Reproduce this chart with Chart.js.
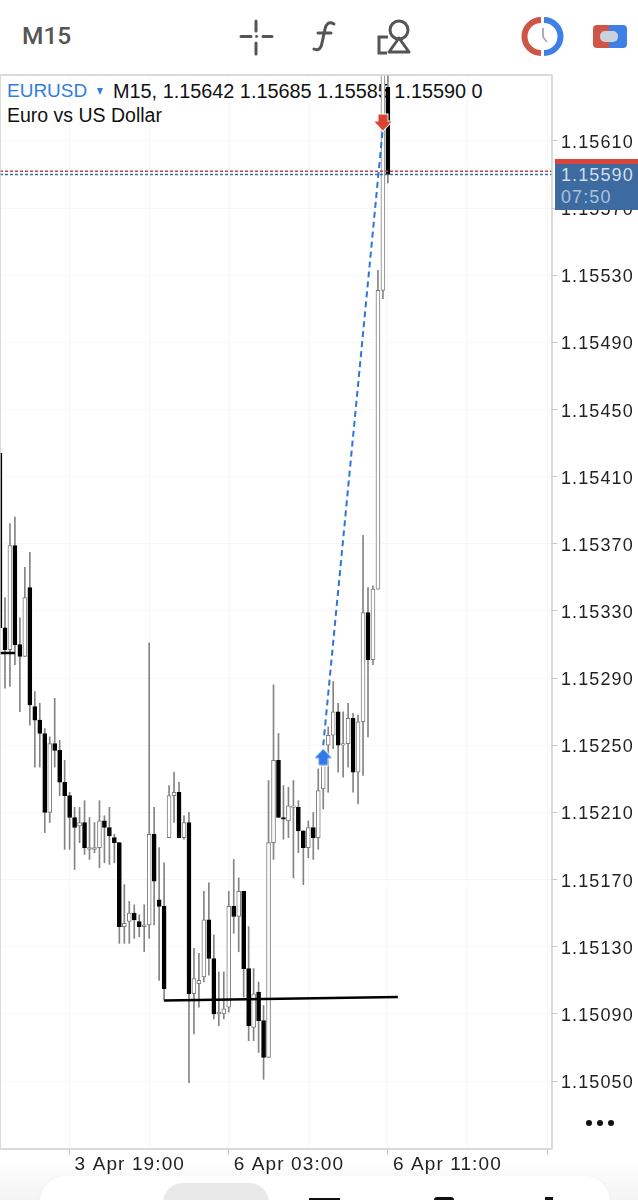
<!DOCTYPE html>
<html>
<head>
<meta charset="utf-8">
<script src="https://cdn.jsdelivr.net/npm/chart.js@4"></script>
<style>
  html, body { margin: 0; background: #fff; }
  #page { position: relative; width: 638px; height: 1200px; overflow: hidden; background: #fff; font-family: "Liberation Sans", sans-serif; }
  #myChart { position: absolute; left: 0; top: 0; z-index: 2; }
  .abs { position: absolute; white-space: nowrap; }
  #tf { left: 22px; top: 21px; font: 500 24.5px Roboto, sans-serif; color: #555; }
  #symbol { left: 7px; top: 80px; font-size: 19px; color: #2f7de1; z-index: 1; }
  #tri { left: 97px; top: 88px; width: 0; height: 0; border-left: 3.5px solid transparent; border-right: 3.5px solid transparent; border-top: 7px solid #2f7de1; z-index: 1; }
  #quote { left: 113px; top: 80px; font-size: 19.85px; color: #111; z-index: 1; }
  #desc { left: 7px; top: 104px; font-size: 19.5px; color: #111; z-index: 1; }
  #badge { left: 555px; top: 159px; width: 83px; height: 51px; background: #3d6a9f; border-top: 5px solid #d8433a; box-sizing: border-box; z-index: 3; font: 18px "Liberation Sans", sans-serif; letter-spacing: 1.1px; }
  #badge div { position: absolute; left: 6px; }
  #more { left: 586px; top: 1120px; width: 6px; height: 6px; border-radius: 3px; background: #111; box-shadow: 11px 0 #111, 22px 0 #111; }
  #dock { left: 0; top: 1160px; width: 638px; height: 40px; background: linear-gradient(#fff, #f4f4f4); }
  #panel { left: 40px; top: 1176px; width: 570px; height: 60px; background: #fff; border-radius: 26px; box-shadow: 0 -1px 6px rgba(0,0,0,.02); }
  #pill { left: 163px; top: 1183px; width: 106px; height: 40px; background: #e9e9e9; border-radius: 24px; }
  .stub { background: #111; }
</style>
</head>
<body>
<div id="page">
  <div class="abs" id="tf">M15</div>
  <svg class="abs" style="left:0;top:0" width="638" height="70" fill="none">
    <g stroke="#555" stroke-width="3" stroke-linecap="round">
      <path d="M241 36.5h10M263 36.5h9M256 21v10M256 43v11"/>
    </g>
    <circle cx="256.5" cy="36.5" r="1.4" fill="#555"/>
    <path d="M334 24c-5-3-8 0-9 5l-3 14c-1 6-4 8-8 6M318 33h13" stroke="#555" stroke-width="3" stroke-linecap="round"/>
    <path d="M388 37h-9v16h8" stroke="#555" stroke-width="3"/>
    <circle cx="399" cy="30" r="9" stroke="#555" stroke-width="3"/>
    <path d="M399 38l10 14h-20z" stroke="#555" stroke-width="3" stroke-linejoin="round"/>
    <path d="M541 20a16.5 16.5 0 0 0 0 33" stroke="#cf5547" stroke-width="6"/>
    <path d="M544 20a16.5 16.5 0 0 1 0 33" stroke="#3f80e6" stroke-width="6"/>
    <path d="M543 28v9l4 5" stroke="#a9b0b8" stroke-width="2"/>
    <path d="M609 25h-12a4 4 0 0 0-4 4v15a4 4 0 0 0 4 4h12z" fill="#cf5547"/>
    <path d="M609 25h14a4 4 0 0 1 4 4v15a4 4 0 0 1-4 4h-14z" fill="#3f80e6"/>
    <rect x="600" y="31" width="18" height="11" rx="5" fill="#c9d2dc"/>
  </svg>
  <div class="abs" id="symbol">EURUSD</div>
  <div class="abs" id="tri"></div>
  <div class="abs" id="quote">M15, 1.15642 1.15685 1.15585 1.15590 0</div>
  <div class="abs" id="desc">Euro vs US Dollar</div>
  <canvas id="myChart" width="638" height="1200"></canvas>
  <div class="abs" id="badge">
    <div style="top:1px;color:#d3deec">1.15590</div>
    <div style="top:23px;color:#a9c2de">07:50</div>
  </div>
  <div class="abs" id="more"></div>
  <div class="abs" id="dock"></div>
  <div class="abs" id="panel"></div>
  <div class="abs" id="pill"></div>
  <div class="abs stub" style="left:309px;top:1198px;width:31px;height:2px"></div>
  <div class="abs stub" style="left:434px;top:1197px;width:20px;height:3px;border-radius:10px 10px 0 0"></div>
  <div class="abs stub" style="left:545px;top:1197px;width:8px;height:3px"></div>
</div>
<script>
const categories = [
  "3 Apr 15:30","3 Apr 15:45","3 Apr 16:00","3 Apr 16:15","3 Apr 16:30","3 Apr 16:45","3 Apr 17:00","3 Apr 17:15",
  "3 Apr 17:30","3 Apr 17:45","3 Apr 18:00","3 Apr 18:15","3 Apr 18:30","3 Apr 18:45","3 Apr 19:00","3 Apr 19:15",
  "3 Apr 19:30","3 Apr 19:45","3 Apr 20:00","3 Apr 20:15","3 Apr 20:30","3 Apr 20:45","3 Apr 21:00","3 Apr 21:15",
  "3 Apr 21:30","3 Apr 21:45","3 Apr 22:00","3 Apr 22:15","3 Apr 22:30","3 Apr 22:45","3 Apr 23:00","3 Apr 23:15",
  "3 Apr 23:30","3 Apr 23:45","6 Apr 00:00","6 Apr 00:15","6 Apr 00:30","6 Apr 00:45","6 Apr 01:00","6 Apr 01:15",
  "6 Apr 01:30","6 Apr 01:45","6 Apr 02:00","6 Apr 02:15","6 Apr 02:30","6 Apr 02:45","6 Apr 03:00","6 Apr 03:15",
  "6 Apr 03:30","6 Apr 03:45","6 Apr 04:00","6 Apr 04:15","6 Apr 04:30","6 Apr 04:45","6 Apr 05:00","6 Apr 05:15",
  "6 Apr 05:30","6 Apr 05:45","6 Apr 06:00","6 Apr 06:15","6 Apr 06:30","6 Apr 06:45","6 Apr 07:00","6 Apr 07:15",
  "6 Apr 07:30","6 Apr 07:45","6 Apr 08:00","6 Apr 08:15","6 Apr 08:30","6 Apr 08:45","6 Apr 09:00","6 Apr 09:15",
  "6 Apr 09:30","6 Apr 09:45","6 Apr 10:00","6 Apr 10:15","6 Apr 10:30","6 Apr 10:45","6 Apr 11:00","6 Apr 11:15",
  "6 Apr 11:30","6 Apr 11:45","6 Apr 12:00","6 Apr 12:15","6 Apr 12:30","6 Apr 12:45","6 Apr 13:00","6 Apr 13:15",
  "6 Apr 13:30","6 Apr 13:45","6 Apr 14:00","6 Apr 14:15","6 Apr 14:30","6 Apr 14:45","6 Apr 15:00","6 Apr 15:15",
  "6 Apr 15:30","6 Apr 15:45","6 Apr 16:00","6 Apr 16:15","6 Apr 16:30","6 Apr 16:45","6 Apr 17:00","6 Apr 17:15",
  "6 Apr 17:30","6 Apr 17:45","6 Apr 18:00","6 Apr 18:15","6 Apr 18:30","6 Apr 18:45","6 Apr 19:00","6 Apr 19:15"
];
const opens = [
  1.15424,1.15320,1.15307,1.15369,1.15310,1.15303,1.15344,1.15273,1.15265,1.15257,
  1.15210,1.15251,1.15247,1.15228,1.15220,1.15207,1.15202,1.15204,1.15188,1.15188,
  1.15189,1.15205,1.15201,1.15195,1.15192,1.15142,1.15145,1.15150,1.15145,1.15142,
  1.15143,1.15197,1.15158,1.15154,1.15195,1.15220,1.15222,1.15195,1.15204,1.15102,
  1.15108,1.15112,1.15146,1.15123,1.15090,1.15090,1.15094,1.15154,1.15148,1.15163,
  1.15117,1.15082,1.15103,1.15086,1.15064,1.15192,1.15241,1.15207,1.15205,1.15213,
  1.15213,1.15199,1.15189,1.15201,1.15195,1.15224,1.15250,1.15256,1.15270,1.15250,
  1.15251,1.15266,1.15234,1.15264,1.15329,1.15301,1.15343,1.15521,1.15642
];
const highs = [
  1.15424,1.15338,1.15382,1.15386,1.15326,1.15356,1.15365,1.15282,1.15275,1.15260,
  1.15255,1.15278,1.15253,1.15241,1.15222,1.15213,1.15213,1.15217,1.15207,1.15204,
  1.15217,1.15208,1.15213,1.15197,1.15192,1.15167,1.15157,1.15155,1.15149,1.15155,
  1.15311,1.15213,1.15189,1.15180,1.15226,1.15234,1.15228,1.15208,1.15210,1.15129,
  1.15126,1.15163,1.15168,1.15137,1.15115,1.15115,1.15163,1.15182,1.15171,1.15163,
  1.15142,1.15117,1.15109,1.15095,1.15229,1.15286,1.15257,1.15226,1.15225,1.15229,
  1.15217,1.15199,1.15205,1.15210,1.15236,1.15239,1.15261,1.15288,1.15275,1.15270,
  1.15275,1.15269,1.15268,1.15375,1.15344,1.15345,1.15533,1.15658,1.15685
];
const lows = [
  1.15320,1.15284,1.15285,1.15298,1.15270,1.15303,1.15262,1.15237,1.15237,1.15198,
  1.15204,1.15237,1.15220,1.15188,1.15188,1.15176,1.15192,1.15185,1.15182,1.15186,
  1.15177,1.15180,1.15179,1.15180,1.15132,1.15132,1.15132,1.15135,1.15136,1.15127,
  1.15135,1.15143,1.15110,1.15098,1.15195,1.15204,1.15195,1.15194,1.15049,1.15078,
  1.15094,1.15109,1.15113,1.15087,1.15083,1.15087,1.15091,1.15138,1.15127,1.15100,
  1.15074,1.15074,1.15067,1.15051,1.15064,1.15182,1.15207,1.15194,1.15195,1.15171,
  1.15186,1.15167,1.15183,1.15182,1.15188,1.15212,1.15222,1.15248,1.15234,1.15231,
  1.15237,1.15222,1.15215,1.15232,1.15255,1.15298,1.15343,1.15516,1.15585
];
const closes = [
  1.15320,1.15307,1.15369,1.15310,1.15303,1.15338,1.15274,1.15265,1.15257,1.15210,
  1.15251,1.15247,1.15228,1.15220,1.15207,1.15201,1.15204,1.15189,1.15189,1.15189,
  1.15205,1.15201,1.15196,1.15192,1.15142,1.15144,1.15150,1.15146,1.15142,1.15143,
  1.15197,1.15169,1.15154,1.15105,1.15220,1.15222,1.15195,1.15204,1.15102,1.15111,
  1.15110,1.15146,1.15123,1.15090,1.15091,1.15093,1.15154,1.15148,1.15163,1.15117,
  1.15083,1.15102,1.15086,1.15064,1.15192,1.15241,1.15207,1.15206,1.15214,1.15214,
  1.15199,1.15189,1.15201,1.15195,1.15223,1.15238,1.15256,1.15270,1.15250,1.15251,
  1.15266,1.15234,1.15264,1.15329,1.15301,1.15343,1.15521,1.15652,1.15590
];
const priceTicks = [1.15050,1.15090,1.15130,1.15170,1.15210,1.15250,1.15290,1.15330,1.15370,1.15410,1.15450,1.15490,1.15530,1.15570,1.15610];
const timeTicks = ["3 Apr 19:00","6 Apr 03:00","6 Apr 11:00"];
const timeMarks = ["3 Apr 19:00","6 Apr 03:00","6 Apr 11:00","6 Apr 19:00"];
const timeGrid = ["3 Apr 19:00","3 Apr 23:00","6 Apr 03:00","6 Apr 07:00","6 Apr 11:00","6 Apr 15:00","6 Apr 19:00"];
const bidPrice = 1.15590;
const askPrice = 1.15592;
const tradeLine = [{x:"6 Apr 07:45",y:1.15250},{x:"6 Apr 10:45",y:1.15618}];
const buyArrow = [{x:"6 Apr 07:45",y:1.15243}];
const sellArrow = [{x:"6 Apr 10:45",y:1.15621}];
const lowerLine = [{x:"3 Apr 23:45",y:1.15098},{x:"6 Apr 11:30",y:1.15100}];
const shortLine = [{x:"3 Apr 15:30",y:1.15305},{x:"3 Apr 16:15",y:1.15305}];

// arrow marker, drawn once and handed to the point element
function arrowImage(color, up) {
  const c = document.createElement("canvas");
  c.width = 20;
  c.height = 19;
  const g = c.getContext("2d");
  g.translate(10, 9.5);
  if (!up) g.scale(1, -1);
  g.beginPath();
  g.moveTo(0, -8);
  g.lineTo(8.5, 1);
  g.lineTo(4.5, 1);
  g.lineTo(4.5, 8);
  g.lineTo(-4.5, 8);
  g.lineTo(-4.5, 1);
  g.lineTo(-8.5, 1);
  g.closePath();
  g.strokeStyle = "#fff";
  g.lineWidth = 2;
  g.stroke();
  g.fillStyle = color;
  g.fill();
  return c;
}

const plotBorder = {
  id: "plotBorder",
  beforeDraw(chart) {
    chart.ctx.letterSpacing = "1.1px";
  },
  afterDraw(chart) {
    const a = chart.chartArea;
    const ctx = chart.ctx;
    ctx.save();
    ctx.strokeStyle = "#cfcfcf";
    ctx.lineWidth = 1.5;
    ctx.strokeRect(a.left, a.top, a.right - a.left, a.bottom - a.top);
    ctx.restore();
  },
};

const config = {
  data: {
    labels: categories,
    datasets: [
      {
        type: "bar",
        label: "wick",
        data: highs.map((h, i) => [lows[i], h]),
        backgroundColor: "#848484",
        barThickness: 1,
        grouped: false,
        order: 6,
      },
      {
        type: "bar",
        label: "body",
        data: opens.map((o, i) => [o, closes[i]]),
        backgroundColor: opens.map((o, i) => (closes[i] >= o ? "#fff" : "#000")),
        borderColor: opens.map((o, i) => (closes[i] >= o ? "#7c7c7c" : "#000")),
        borderWidth: 1,
        borderSkipped: false,
        barThickness: 4,
        grouped: false,
        order: 5,
      },
      {
        type: "line",
        label: "ask",
        data: [{x:categories[0],y:askPrice},{x:categories[categories.length-1],y:askPrice}],
        borderColor: "#b5453f",
        borderWidth: 1.5,
        borderDash: [3, 2],
        pointRadius: 0,
        order: 4,
      },
      {
        type: "line",
        label: "bid",
        data: [{x:categories[0],y:bidPrice},{x:categories[categories.length-1],y:bidPrice}],
        borderColor: "#3e6aa8",
        borderWidth: 1.5,
        borderDash: [3, 2],
        pointRadius: 0,
        order: 4,
      },
      {
        type: "line",
        label: "trade",
        data: tradeLine,
        borderColor: "#2f74d8",
        borderWidth: 2,
        borderDash: [6, 4],
        pointRadius: 0,
        order: 3,
      },
      {
        type: "line",
        label: "lower",
        data: lowerLine,
        borderColor: "#000",
        borderWidth: 2.5,
        pointRadius: 0,
        order: 2,
      },
      {
        type: "line",
        label: "short",
        data: shortLine,
        borderColor: "#000",
        borderWidth: 2.5,
        pointRadius: 0,
        order: 2,
      },
      {
        type: "line",
        label: "buy",
        data: buyArrow,
        showLine: false,
        pointStyle: arrowImage("#2f7ae5", true),
        order: 1,
      },
      {
        type: "line",
        label: "sell",
        data: sellArrow,
        showLine: false,
        pointStyle: arrowImage("#d9432f", false),
        order: 1,
      },
    ],
  },
  options: {
    responsive: false,
    animation: false,
    layout: { autoPadding: false, padding: { top: 75, left: 0, right: 0, bottom: 0 } },
    plugins: { legend: { display: false }, tooltip: { enabled: false } },
    scales: {
      x: {
        type: "category",
        offset: false,
        afterFit(scale) { scale.height = 51; },
        border: { display: false },
        grid: {
          offset: false,
          color: (c) => (timeGrid.includes(categories[c.index]) ? "rgba(0,0,0,0.035)" : "transparent"),
          tickColor: (c) => (timeMarks.includes(categories[c.index]) ? "#c8c8c8" : "transparent"),
          tickLength: 6,
        },
        ticks: {
          autoSkip: false,
          maxRotation: 0,
          minRotation: 0,
          align: "start",
          labelOffset: 5,
          padding: -2,
          color: "#222",
          font: { family: "Liberation Sans", size: 19 },
          callback(v) {
            const name = this.getLabelForValue(v);
            return timeTicks.includes(name) ? name : "";
          },
        },
      },
      y: {
        position: "right",
        min: 1.150095,
        max: 1.156493,
        afterFit(scale) { scale.width = 86; },
        afterBuildTicks(scale) { scale.ticks = priceTicks.map((v) => ({ value: v })); },
        border: { display: false },
        grid: { color: "rgba(0,0,0,0.03)", tickColor: "#c8c8c8", tickLength: 5 },
        ticks: {
          padding: 4,
          labelOffset: 2,
          color: "#222",
          font: { family: "Liberation Sans", size: 18 },
          callback: (v) => v.toFixed(5),
        },
      },
    },
  },
  plugins: [plotBorder],
};
var myChart = new Chart(document.getElementById("myChart"), config);
</script>
</body>
</html>
